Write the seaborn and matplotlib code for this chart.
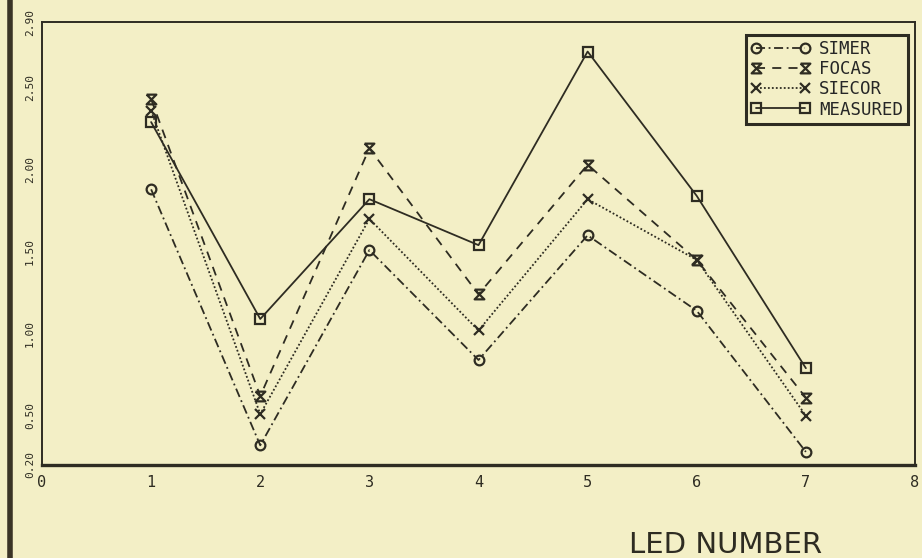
import matplotlib
matplotlib.use("Agg")
import matplotlib.pyplot as plt
import pandas as pd
import seaborn as sns
from matplotlib.path import Path
from matplotlib.lines import Line2D

# values
led = [1, 2, 3, 4, 5, 6, 7]
simer = [1.88, 0.32, 1.51, 0.84, 1.60, 1.14, 0.28]
focas = [2.43, 0.62, 2.13, 1.24, 2.03, 1.45, 0.61]
siecor = [2.36, 0.51, 1.70, 1.02, 1.82, 1.45, 0.50]
measured = [2.29, 1.09, 1.82, 1.54, 2.72, 1.84, 0.79]
series_names = ["SIMER", "FOCAS", "SIECOR", "MEASURED"]
y_ticks = [0.20, 0.50, 1.00, 1.50, 2.00, 2.50, 2.90]
y_tick_labels = ["0.20", "0.50", "1.00", "1.50", "2.00", "2.50", "2.90"]

df = pd.DataFrame({"led": led, "SIMER": simer, "FOCAS": focas,
                   "SIECOR": siecor, "MEASURED": measured})

paper = "#F3EFC6"
ink = "#2E2C22"

# hourglass-like marker used by the plotter for FOCAS
bar_x = Path([(-1, 1), (1, 1), (-1, -1), (1, -1), (-1, 1)],
             [Path.MOVETO, Path.LINETO, Path.LINETO, Path.LINETO, Path.LINETO])

markers = {"SIMER": "o", "FOCAS": bar_x, "SIECOR": "x", "MEASURED": "s"}
linestyles = {"SIMER": (0, (5, 2, 1, 2)), "FOCAS": (0, (5, 4)),
              "SIECOR": (0, (1, 1.2)), "MEASURED": "-"}

sns.set_style("white")
plt.rcParams["font.family"] = ["DejaVu Sans Mono"]

fig = plt.figure(figsize=(9.22, 5.58), dpi=100, facecolor=paper)
ax = fig.add_axes([42 / 922, 1 - 465 / 558, (915 - 42) / 922, (465 - 22) / 558])
ax.set_facecolor(paper)

for name in series_names:
    sns.lineplot(data=df, x="led", y=name, color=ink, label=name,
                 marker=markers[name], linestyle=linestyles[name],
                 linewidth=1.3, markersize=7, mfc="none", mec=ink, mew=1.6,
                 ax=ax)

ax.set_xlim(0, 8)
ax.set_ylim(0.20, 2.90)
ax.set_xticks(range(0, 9))
ax.set_yticks(y_ticks)
ax.set_yticklabels(y_tick_labels, rotation=90, va="center")
ax.tick_params(axis="both", colors=ink, labelsize=11, direction="out", length=4, width=1.2)
ax.tick_params(axis="y", labelsize=8, pad=1)
ax.set_xlabel("")
ax.set_ylabel("")
for side in ["left", "bottom", "top", "right"]:
    ax.spines[side].set_color(ink)
    ax.spines[side].set_linewidth(1.4)
ax.spines["bottom"].set_linewidth(2.4)

handles, labels = ax.get_legend_handles_labels()
ax.legend(handles, labels, loc="upper right", bbox_to_anchor=(1.002, 0.99),
          numpoints=2, handlelength=3.4, handletextpad=0.5, labelspacing=0.12,
          fontsize=12.5, frameon=True, fancybox=False, edgecolor=ink,
          facecolor=paper, framealpha=1, borderpad=0.3)
ax.get_legend().get_frame().set_linewidth(2.2)

fig.text(726 / 922, 1 - 545 / 558, "LED NUMBER", ha="center", va="center",
         fontsize=21, color=ink, family="DejaVu Sans")

# dark binding edge of the scanned page
fig.add_artist(Line2D([10 / 922, 10 / 922], [0, 1], color="#3A3426", linewidth=4))

fig.savefig("out.png", dpi=100, facecolor=paper)
